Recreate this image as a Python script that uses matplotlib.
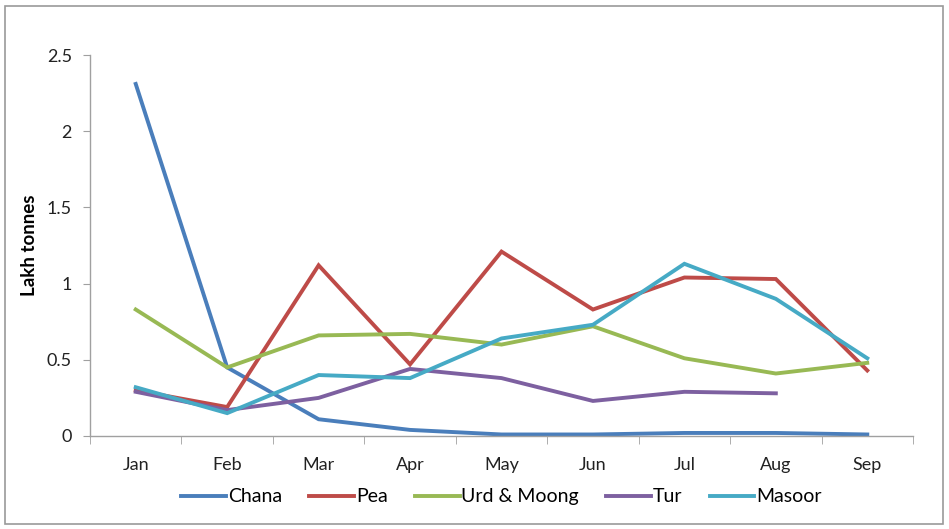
import numpy as np
import matplotlib
matplotlib.use("Agg")
from matplotlib import pyplot as plt
from matplotlib.patches import Rectangle

plt.rcParams['font.family'] = ['Lato', 'DejaVu Sans']

months = ["Jan", "Feb", "Mar", "Apr", "May", "Jun", "Jul", "Aug", "Sep"]
chana = [2.31, 0.45, 0.11, 0.04, 0.01, 0.01, 0.02, 0.02, 0.01]
pea = [0.30, 0.19, 1.12, 0.47, 1.21, 0.83, 1.04, 1.03, 0.43]
urd_moong = [0.83, 0.45, 0.66, 0.67, 0.60, 0.72, 0.51, 0.41, 0.48]
tur = [0.29, 0.17, 0.25, 0.44, 0.38, 0.23, 0.29, 0.28, np.nan]
masoor = [0.32, 0.15, 0.40, 0.38, 0.64, 0.73, 1.13, 0.90, 0.51]

series = [("Chana", chana, "#4A7EBB"),
          ("Pea", pea, "#BE4B48"),
          ("Urd & Moong", urd_moong, "#98B954"),
          ("Tur", tur, "#7D60A0"),
          ("Masoor", masoor, "#46AAC5")]

fig = plt.figure(figsize=(9.49, 5.29), dpi=100)
ax = fig.add_axes([90/949, 93/529, 823/949, 381/529])

x = np.arange(len(months))
for name, vals, col in series:
    ax.plot(x, vals, color=col, lw=2.8, label=name, solid_joinstyle="miter")

ax.set_xlim(-0.5, len(months) - 0.5)
ax.set_ylim(0, 2.5)
ax.set_yticks([0, 0.5, 1, 1.5, 2, 2.5])
ax.set_yticklabels(["0", "0.5", "1", "1.5", "2", "2.5"])
ax.set_xticks(x)
ax.set_xticklabels(months)
ax.set_xticks(np.arange(len(months) + 1) - 0.5, minor=True)
ax.tick_params(axis="x", which="major", length=0, pad=15, labelsize=13, colors="#222222")
ax.tick_params(axis="x", which="minor", length=6, color="#A0A0A0")
ax.tick_params(axis="y", length=5, color="#A0A0A0", labelsize=13, labelcolor="#222222", pad=8)

for s in ["top", "right"]:
    ax.spines[s].set_visible(False)
for s in ["left", "bottom"]:
    ax.spines[s].set_color("#A0A0A0")
    ax.spines[s].set_linewidth(1.0)

ax.set_ylabel("Lakh tonnes", fontsize=13.5, fontweight="bold", labelpad=6)

ax.legend(loc="center", bbox_to_anchor=(0.5, -0.16), ncol=5, frameon=False,
          fontsize=14, handlelength=2.3, handletextpad=0.1, columnspacing=1.4)

fig.patches.append(Rectangle((5/949, 5/529), 938/949, 518/529, transform=fig.transFigure,
                             fill=False, edgecolor="#9A9A9A", lw=1.2))

fig.savefig("out.png", dpi=100)
